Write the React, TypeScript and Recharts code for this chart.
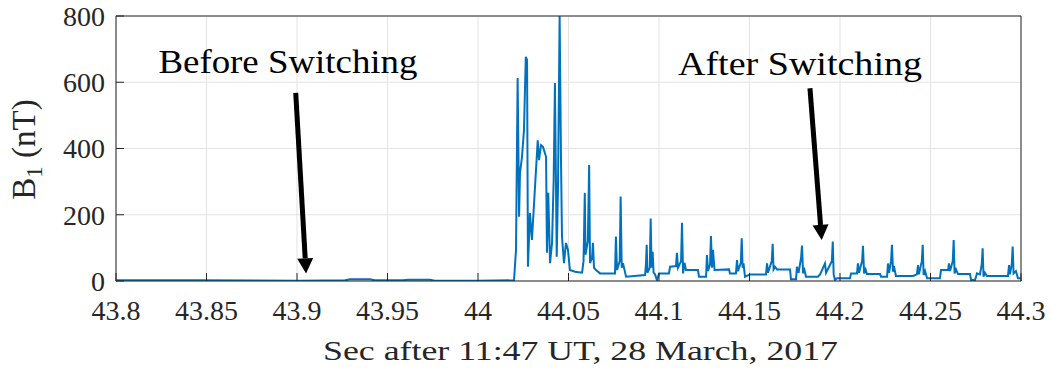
import React from "react";
import {
  CartesianGrid,
  Label,
  Line,
  LineChart,
  ReferenceDot,
  ReferenceLine,
  XAxis,
  YAxis,
} from "recharts";

// time after 11:47 UT (s)
const times = [
  43.8, 43.8464, 43.9017, 43.9265, 43.9293, 43.9403, 43.9431, 43.9586, 43.9613, 43.9735,
  43.9762, 44.0, 44.0199, 44.021,
  44.0219, 44.0227, 44.0232, 44.0243, 44.0254, 44.0264, 44.0271, 44.0276, 44.0287, 44.0298,
  44.033, 44.0337, 44.0348, 44.0359, 44.0376, 44.0381, 44.0388, 44.0398, 44.0409, 44.0418,
  44.0425, 44.0435, 44.0442, 44.0451, 44.0459, 44.0464, 44.0475, 44.0486, 44.0497, 44.0508,
  44.0536, 44.0575, 44.0583, 44.059, 44.0594, 44.0607, 44.0614, 44.0619, 44.063, 44.0635,
  44.0641, 44.0652, 44.0674, 44.0757, 44.0762, 44.0768, 44.0783, 44.0788, 44.0794, 44.0801,
  44.0818, 44.0923, 44.0928, 44.0932, 44.0936, 44.0949, 44.0954, 44.0959, 44.0965, 44.097,
  44.0978, 44.0989, 44.1, 44.1055, 44.1061, 44.1094, 44.1099, 44.1105, 44.1122, 44.1127,
  44.1133, 44.1141, 44.1149, 44.1215, 44.1221, 44.126, 44.1265, 44.1271, 44.1282, 44.1287,
  44.1293, 44.1298, 44.1307, 44.1387, 44.1392, 44.1425, 44.1431, 44.1436, 44.1452, 44.1457,
  44.1462, 44.1467, 44.1475, 44.1503, 44.1591, 44.1597, 44.1602, 44.1623, 44.1628, 44.1633,
  44.1641, 44.1652, 44.1724, 44.1729, 44.1757, 44.1762, 44.1771, 44.1785, 44.179, 44.1796,
  44.1801, 44.1812, 44.1878, 44.189, 44.1917, 44.1923, 44.1955, 44.196, 44.1965, 44.1972,
  44.1983, 44.2055, 44.2061, 44.2094, 44.2099, 44.2105, 44.2122, 44.2127, 44.2133, 44.2141,
  44.2149, 44.2221, 44.2227, 44.226, 44.2265, 44.2271, 44.2282, 44.2287, 44.2293, 44.2298,
  44.2309, 44.2403, 44.2425, 44.2431, 44.2436, 44.2452, 44.2457, 44.2462, 44.247, 44.2481,
  44.2552, 44.2558, 44.2597, 44.2602, 44.2608, 44.2623, 44.2628, 44.2633, 44.2641, 44.2652,
  44.2718, 44.2724, 44.2746, 44.2757, 44.2773, 44.2783, 44.2788, 44.2793, 44.2801, 44.2812,
  44.2884, 44.2928, 44.2934, 44.2939, 44.2949, 44.2954, 44.2959, 44.2972, 44.2983, 44.3,
];

// B1 (nT)
const b1Values = [
  2, 2, 1, 2, 5, 5, 2, 2, 4, 4,
  1, 1, 2, 94,
  613, 194, 326, 375, 456, 677, 667, 43, 205, 124,
  425, 365, 410, 405, 375, 85, 266, 54, 115, 305,
  598, 73, 285, 800, 345, 134, 54, 115, 94, 33,
  28, 25, 60, 266, 80, 120, 350, 54, 70, 115,
  40, 33, 23, 23, 134, 33, 60, 255, 40, 54,
  13, 18, 50, 109, 25, 40, 189, 40, 88, 25,
  20, 2, 23, 23, 43, 45, 85, 40, 60, 176,
  23, 55, 33, 33, 13, 13, 78, 30, 50, 136,
  40, 94, 33, 35, 23, 23, 63, 30, 55, 129,
  40, 53, 13, 20, 20, 53, 25, 60, 112, 35,
  43, 35, 35, 5, 5, 43, 25, 70, 107, 23,
  40, 13, 13, 20, 53, 25, 60, 119, 20, 3,
  8, 8, 23, 23, 53, 25, 60, 106, 23, 35,
  21, 21, 13, 13, 53, 25, 60, 109, 28, 45,
  15, 15, 20, 48, 20, 60, 109, 18, 30, 8,
  8, 33, 33, 53, 30, 60, 124, 23, 35, 21,
  21, 3, 3, 23, 20, 50, 99, 13, 25, 15,
  15, 15, 48, 20, 50, 104, 23, 30, 8, 8,
];

const xTicks = [43.8, 43.85, 43.9, 43.95, 44.0, 44.05, 44.1, 44.15, 44.2, 44.25, 44.3];
const yTicks = [0, 200, 400, 600, 800];

// annotations: text anchor and arrow (start -> tip), in data units
const noteLabels = ["Before Switching", "After Switching"];
const noteTextAt = [
  { x: 43.895, y: 627 },
  { x: 44.1779, y: 622 },
];
const noteArrowFrom = [
  { x: 43.8993, y: 568 },
  { x: 44.1834, y: 582 },
];
const noteArrowTo = [
  { x: 43.905, y: 23 },
  { x: 44.1899, y: 124 },
];
const noteTextWidth = [259, 244];

const data = times.map((t, i) => ({ t, b1: b1Values[i] }));

const FONT = "'Liberation Serif', 'Times New Roman', serif";
const AXIS = "#262626";
const GRID = "#e3e3e3";

const fmtTick = (v: number) => String(parseFloat(v.toFixed(2)));

const Arrow = (props: any) => {
  const { x1, y1, x2, y2 } = props;
  const dx = x2 - x1;
  const dy = y2 - y1;
  const len = Math.hypot(dx, dy) || 1;
  const ux = dx / len;
  const uy = dy / len;
  const head = 15;
  const hw = 8;
  const bx = x2 - ux * head;
  const by = y2 - uy * head;
  return (
    <g>
      <line x1={x1} y1={y1} x2={bx} y2={by} stroke="#000" strokeWidth={5} />
      <polygon
        points={`${x2},${y2} ${bx - uy * hw},${by + ux * hw} ${bx + uy * hw},${by - ux * hw}`}
        fill="#000"
      />
    </g>
  );
};

const noteText = (i: number) => (p: any) => (
  <text
    x={p.cx}
    y={p.cy}
    textAnchor="middle"
    fontFamily={FONT}
    fontSize={33}
    fill="#000"
    textLength={noteTextWidth[i]}
    lengthAdjust="spacingAndGlyphs"
  >
    {noteLabels[i]}
  </text>
);

const YTitle = (props: any) => {
  const { x, y, width, height } = props.viewBox;
  const cx = x + width - 81;
  const cy = y + height / 2 + 1;
  return (
    <text
      transform={`translate(${cx},${cy}) rotate(-90)`}
      textAnchor="middle"
      fontFamily={FONT}
      fontSize={33}
      fill={AXIS}
    >
      B<tspan dy={7} fontSize={23}>1</tspan>
      <tspan dy={-7}> (nT)</tspan>
    </text>
  );
};

const XTitle = (props: any) => {
  const { x, y, width } = props.viewBox;
  return (
    <text
      x={x + width / 2 + 12}
      y={y + 79}
      textAnchor="middle"
      fontFamily={FONT}
      fontSize={28}
      fill={AXIS}
      textLength={515}
      lengthAdjust="spacingAndGlyphs"
    >
      Sec after 11:47 UT, 28 March, 2017
    </text>
  );
};

const tickStyle = { fontFamily: FONT, fontSize: 28, fill: AXIS };

const App = () => {
  return (
    <div style={{ position: "absolute", left: 0, top: 0, background: "#fff" }}>
      <LineChart
        width={1051}
        height={374}
        data={data}
        margin={{ top: 15, right: 29, bottom: 53, left: 56 }}
      >
        <CartesianGrid stroke={GRID} strokeWidth={1} />
        <XAxis
          dataKey="t"
          type="number"
          domain={[43.8, 44.3]}
          ticks={xTicks}
          allowDataOverflow
          tickFormatter={fmtTick}
          height={40}
          tickSize={-8}
          tickMargin={27}
          stroke={AXIS}
          tick={tickStyle}
          interval={0}
        >
          <Label content={XTitle} />
        </XAxis>
        <XAxis
          xAxisId="top"
          orientation="top"
          dataKey="t"
          type="number"
          domain={[43.8, 44.3]}
          ticks={xTicks}
          allowDataOverflow
          height={1}
          tickSize={-8}
          tick={false}
          stroke={AXIS}
          interval={0}
        />
        <YAxis
          type="number"
          domain={[0, 800]}
          ticks={yTicks}
          allowDataOverflow
          width={60}
          tickSize={-8}
          tickMargin={19}
          stroke={AXIS}
          tick={tickStyle}
          interval={0}
        >
          <Label content={YTitle} />
        </YAxis>
        <YAxis
          yAxisId="right"
          orientation="right"
          type="number"
          domain={[0, 800]}
          ticks={yTicks}
          allowDataOverflow
          width={1}
          tickSize={-8}
          tick={false}
          stroke={AXIS}
          interval={0}
        />
        <Line
          type="linear"
          dataKey="b1"
          stroke="#0072BD"
          strokeWidth={2}
          dot={false}
          isAnimationActive={false}
        />
        {noteLabels.map((_, i) => (
          <ReferenceLine
            key={`arrow-${i}`}
            segment={[noteArrowFrom[i], noteArrowTo[i]]}
            shape={Arrow}
            ifOverflow="visible"
          />
        ))}
        {noteLabels.map((_, i) => (
          <ReferenceDot
            key={`note-${i}`}
            x={noteTextAt[i].x}
            y={noteTextAt[i].y}
            r={0}
            shape={noteText(i)}
            ifOverflow="visible"
          />
        ))}
      </LineChart>
    </div>
  );
};

export default App;
